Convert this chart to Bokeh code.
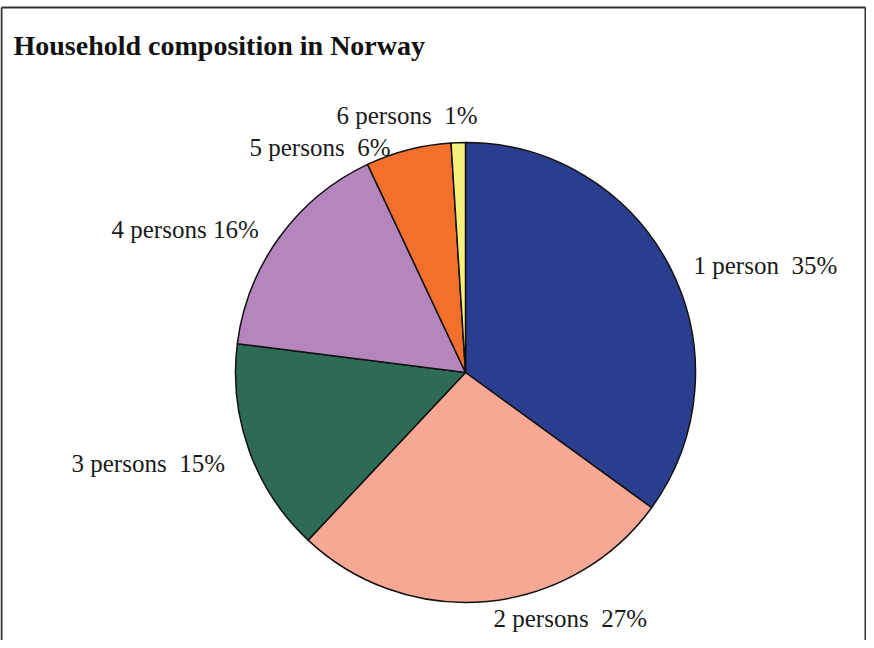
import math
from bokeh.plotting import figure
from bokeh.models import Range1d, ColumnDataSource
from bokeh.embed import file_html
from bokeh.resources import INLINE
from bokeh.core.properties import value

# ---- data ----
categories = ["1 person", "2 persons", "3 persons", "4 persons", "5 persons", "6 persons"]
shares = [35, 27, 15, 16, 6, 1]
title_text = "Household composition in Norway"

# ---- style ----
colors = ["#2B3D8F", "#F6A894", "#2E6B56", "#B586BE", "#F26F2C", "#F7F07A"]
label_gaps = [" \u00a0", " \u00a0", " \u00a0", " ", " \u00a0", " \u00a0"]
# label anchors in picture pixels (left edge, baseline)
label_px = [693, 493, 71, 111, 249, 336]
label_py = [265, 618, 463, 229, 147, 115]
center_px, center_py, radius_px = 465, 372, 230

W, H = 866, 640
p = figure(width=W, height=H, output_backend="svg", toolbar_location=None,
           x_range=Range1d(0, W), y_range=Range1d(-H, 0),
           min_border=0, outline_line_color=None)
p.axis.visible = False
p.grid.visible = False
p.background_fill_color = "white"
p.border_fill_color = "white"

total = sum(shares)
starts, ends = [], []
cum = 0.0
for s in shares:
    a0 = math.pi / 2 - 2 * math.pi * cum / total
    cum += s
    a1 = math.pi / 2 - 2 * math.pi * cum / total
    starts.append(a0)
    ends.append(a1)

src = ColumnDataSource(dict(start=starts, end=ends, color=colors))
p.wedge(x=center_px, y=-center_py, radius=radius_px, start_angle="start", end_angle="end",
        direction="clock", fill_color="color", line_color="#111111", line_width=1.5, source=src)

labels = [f"{c}{g}{v}%" for c, g, v in zip(categories, label_gaps, shares)]
lsrc = ColumnDataSource(dict(x=label_px, y=[-v for v in label_py], text=labels))
p.text(x="x", y="y", text="text", source=lsrc, text_font=value("Liberation Serif"),
       text_font_size="25px", text_color="#1a1a1a", text_align="left", text_baseline="alphabetic")

p.text(x=[13], y=[-45], text=[title_text], text_font=value("Liberation Serif"),
       text_font_size="28px", text_font_style="bold", text_color="#111111",
       text_align="left", text_baseline="alphabetic")

# frame
p.multi_line(xs=[[1, 865], [865, 865], [1, 1]],
             ys=[[-7, -7], [-7, -H], [-7, -H]],
             line_color="#333333", line_width=2)

open("out.html", "w").write(file_html(p, INLINE))
